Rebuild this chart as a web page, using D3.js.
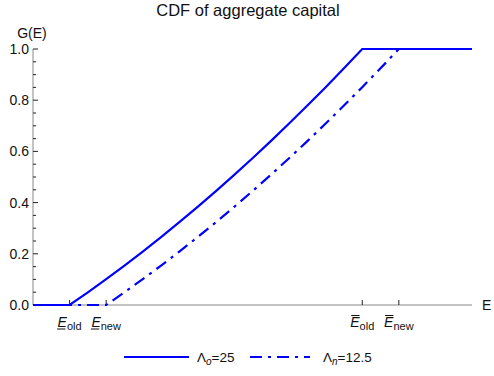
<!DOCTYPE html>
<html>
<head>
<meta charset="utf-8">
<script src="https://cdn.jsdelivr.net/npm/d3@7/dist/d3.min.js"></script>
<style>
  html, body { margin: 0; padding: 0; background: #fff; }
  svg { display: block; font-family: "Liberation Sans", Arial, sans-serif; }
</style>
</head>
<body>
<svg id="chart" width="494" height="376"></svg>
<script>
// Aggregate capital E and the CDF G(E) for each regime
const eOld = [0, 1, 1.5, 2, 2.5, 3, 3.5, 4, 4.5, 5, 5.5, 6, 6.5, 7, 7.5, 8, 8.5, 9, 12];
const gOld = [0, 0, 0.0496, 0.1009, 0.1540, 0.2088, 0.2652, 0.3234, 0.3834, 0.4450, 0.5084, 0.5734, 0.6402, 0.7088, 0.7790, 0.8509, 0.9246, 1, 1];
const eNew = [0, 2, 2.5, 3, 3.5, 4, 4.5, 5, 5.5, 6, 6.5, 7, 7.5, 8, 8.5, 9, 9.5, 10, 12];
const gNew = [0, 0, 0.0496, 0.1009, 0.1540, 0.2088, 0.2652, 0.3234, 0.3834, 0.4450, 0.5084, 0.5734, 0.6402, 0.7088, 0.7790, 0.8509, 0.9246, 1, 1];

// Symbolic x ticks: lower / upper bounds of E under each regime
const xTickValues = [1, 2, 9, 10];
const xTickSubs = ["old", "new", "old", "new"];
const xTickBars = ["under", "under", "over", "over"];

const yTickValues = [0, 0.2, 0.4, 0.6, 0.8, 1.0];
const seriesNames = [["Λ", "o", "=25"], ["Λ", "n", "=12.5"]];

const svg = d3.select("#chart");
const blue = "#0000ff";
const dashDot = "12,6,3,6";
const fs = 13.5;
const lw = 2.2;

const x = d3.scaleLinear().domain([0, 12]).range([33, 472]);
const y = d3.scaleLinear().domain([0, 1]).range([305, 49]);

// Title
svg.append("text").attr("x", 248).attr("y", 16).attr("text-anchor", "middle")
  .attr("font-size", 16.5).attr("fill", "#111").text("CDF of aggregate capital");

// Y axis: major + minor ticks pointing inward
const yAxis = svg.append("g").attr("transform", `translate(${x(0)},0)`);
yAxis.append("line").attr("x1", 0).attr("x2", 0).attr("y1", y(0)).attr("y2", y(1))
  .attr("stroke", "#888").attr("stroke-width", 1);
const minor = d3.range(0, 1.0001, 0.05);
yAxis.selectAll(".minor").data(minor).join("line")
  .attr("x1", 0).attr("x2", d => (Math.round(d * 100) % 20 === 0) ? 5 : 3)
  .attr("y1", d => y(d)).attr("y2", d => y(d))
  .attr("stroke", "#222").attr("stroke-width", 1);
yAxis.selectAll(".lab").data(yTickValues).join("text")
  .attr("x", -4).attr("y", d => y(d) + 5)
  .attr("text-anchor", "end").attr("font-size", fs + 0.5).attr("fill", "#111")
  .text(d => d3.format(".1f")(d));
svg.append("text").attr("x", 32).attr("y", 38).attr("text-anchor", "middle")
  .attr("font-size", fs + 0.5).attr("fill", "#111").text("G(E)");

// X axis
svg.append("line").attr("x1", x(0)).attr("x2", x(12)).attr("y1", y(0)).attr("y2", y(0))
  .attr("stroke", "#888").attr("stroke-width", 1);
svg.append("text").attr("x", 482).attr("y", 310).attr("font-size", fs + 0.5).attr("fill", "#111").text("E");
const xt = svg.selectAll(".xt").data(xTickValues).join("g")
  .attr("transform", d => `translate(${x(d)},${y(0)})`);
xt.append("line").attr("y1", 0).attr("y2", -5).attr("stroke", "#222");
xt.each(function(d, i) {
  const g = d3.select(this);
  const t = g.append("text").attr("y", 22).attr("text-anchor", "middle")
    .attr("font-size", fs + 0.5).attr("fill", "#111");
  t.append("tspan").attr("font-style", "italic").text("E");
  t.append("tspan").attr("dy", 3).attr("font-size", 11).text(xTickSubs[i]);
  // bar above or below the italic E
  const ex = t.node().getStartPositionOfChar(0).x;
  const ew = t.node().getExtentOfChar(0).width;
  const by = xTickBars[i] === "under" ? 24 : 10.5;
  const shift = xTickBars[i] === "under" ? -0.5 : 1;
  g.append("line").attr("x1", ex + shift).attr("x2", ex + ew + shift - 1)
    .attr("y1", by).attr("y2", by).attr("stroke", "#111").attr("stroke-width", 1);
});

// Curves
const line = d3.line().x(d => x(d[0])).y(d => y(d[1]));
const oldPts = eOld.map((e, i) => [e, gOld[i]]);
const newPts = eNew.map((e, i) => [e, gNew[i]]);
svg.append("path").attr("d", line(newPts)).attr("fill", "none")
  .attr("stroke", blue).attr("stroke-width", lw).attr("stroke-dasharray", dashDot);
svg.append("path").attr("d", line(oldPts)).attr("fill", "none")
  .attr("stroke", blue).attr("stroke-width", lw);

// Legend
const legend = [
  { x1: 124, x2: 189, tx: 197, dash: null, name: seriesNames[0] },
  { x1: 250, x2: 310, tx: 323, dash: dashDot, name: seriesNames[1] }
];
legend.forEach(l => {
  svg.append("line").attr("x1", l.x1).attr("x2", l.x2).attr("y1", 357).attr("y2", 357)
    .attr("stroke", blue).attr("stroke-width", lw)
    .attr("stroke-dasharray", l.dash);
  const t = svg.append("text").attr("x", l.tx).attr("y", 362)
    .attr("font-size", fs).attr("fill", "#111");
  t.append("tspan").text(l.name[0]);
  t.append("tspan").attr("font-style", "italic").attr("font-size", 10).attr("dy", 3).text(l.name[1]);
  t.append("tspan").attr("dy", -3).text(l.name[2]);
});
</script>
</body>
</html>
